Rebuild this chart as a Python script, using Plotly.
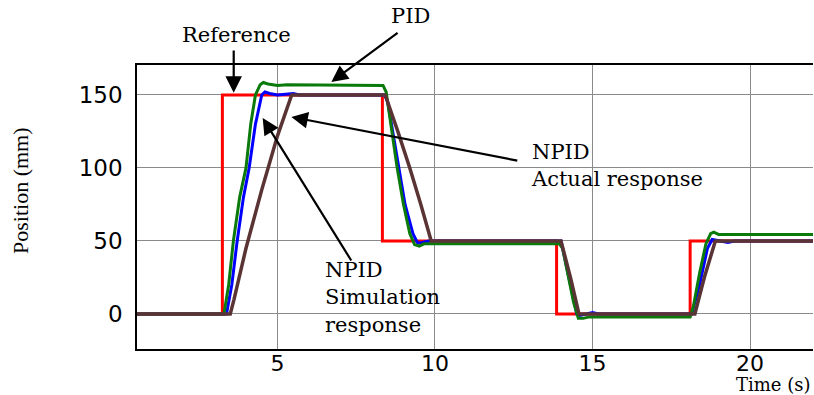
import plotly.graph_objects as go

# Reference position command (mm) against time (s)
t_ref = [0.54, 3.25, 3.25, 8.33, 8.33, 13.86, 13.86, 18.1, 18.1, 22.0]
pos_ref = [0, 0, 150, 150, 50, 50, 0, 0, 50, 50]

# PID response
t_pid = [0.54, 3.3, 3.45, 3.6, 3.8, 4.0, 4.15, 4.3, 4.45, 4.55, 4.7, 5.0, 5.3, 5.6,
         6.0, 7.0, 8.35, 8.45, 8.6, 8.8, 9.0, 9.2, 9.35, 9.5, 9.65, 9.8, 13.95,
         14.05, 14.2, 14.4, 14.55, 14.7, 14.9, 18.1, 18.2, 18.4, 18.6, 18.75,
         18.85, 19.0, 22.0]
pos_pid = [0, 0, 20, 50, 80, 100, 130, 150, 157, 158.5, 157.5, 156.5, 157, 157,
           156.5, 156.5, 156.5, 152, 130, 100, 75, 55, 47.5, 46.5, 48, 48, 48,
           45, 28, 8, -3, -3, -2, -2, 5, 28, 48, 55, 56, 54.5, 54.5]

# NPID simulation response
t_sim = [0.54, 3.38, 3.55, 3.72, 3.92, 4.1, 4.3, 4.5, 4.6, 4.75, 5.0, 5.5, 5.7,
         8.4, 8.5, 8.7, 8.85, 9.05, 9.3, 9.45, 9.6, 9.8, 14.0, 14.2, 14.4, 14.5,
         14.6, 14.8, 15.0, 15.2, 18.15, 18.4, 18.65, 18.8, 19.0, 19.3, 19.5, 22.0]
pos_sim = [0, 0, 20, 50, 80, 100, 130, 150, 152, 151, 150, 151, 150,
           150, 145, 120, 100, 75, 55, 48.5, 49, 50, 50, 30, 10, 0,
           -1, 0, 1, 0, 0, 20, 45, 51, 50, 49, 50, 50]

# NPID actual response
t_act = [0.54, 3.5, 3.62, 4.0, 4.5, 5.0, 5.45, 8.42, 8.82, 9.2, 9.55, 9.88,
         14.0, 14.3, 14.57, 18.25, 18.55, 18.9, 22.0]
pos_act = [0, 0, 10, 45, 85, 122, 150, 150, 125, 100, 75, 50,
           50, 25, 0, 0, 25, 50, 50]

x_ticks = [5, 10, 15, 20]
y_ticks = [0, 50, 100, 150]

fig = go.Figure()
fig.add_trace(go.Scatter(x=t_ref, y=pos_ref, mode="lines",
                         line=dict(color="#ff0000", width=3), name="Reference"))
fig.add_trace(go.Scatter(x=t_sim, y=pos_sim, mode="lines",
                         line=dict(color="#0000ff", width=3), name="NPID simulation"))
fig.add_trace(go.Scatter(x=t_pid, y=pos_pid, mode="lines",
                         line=dict(color="#0a7a0a", width=3), name="PID"))
fig.add_trace(go.Scatter(x=t_act, y=pos_act, mode="lines",
                         line=dict(color="#5a3434", width=3.5), name="NPID actual"))

W, H = 814, 395
ML, MR, MT, MB = 137, 1, 65, 46
pw, ph = W - ML - MR, H - MT - MB
X0, X1 = 0.54, 22.0
Y0, Y1 = -24, 170.5

serif = "DejaVu Serif"
label_font = dict(family=serif, size=21, color="black")

annotations = []


def px_to_paper(px, py):
    return (px - ML) / pw, (H - MB - py) / ph


def arrow(tip_x, tip_y, tail_x, tail_y):
    annotations.append(dict(
        x=tip_x, y=tip_y, ax=tail_x, ay=tail_y,
        xref="x", yref="y", axref="x", ayref="y",
        text="", showarrow=True, arrowhead=2, arrowsize=1.5,
        arrowwidth=2.2, arrowcolor="black", standoff=0, startstandoff=0,
    ))


def label(px, py, text, xanchor="center", font=label_font, angle=0):
    # text placed by its pixel position on the page
    x, y = px_to_paper(px, py)
    annotations.append(dict(
        x=x, y=y, xref="paper", yref="paper", text=text, showarrow=False,
        xanchor=xanchor, yanchor="middle", align="left", font=font,
        textangle=angle, borderpad=0,
    ))


label(236, 35, "Reference")
arrow(3.61, 151.5, 3.61, 181.5)

label(410, 16, "PID")
arrow(6.71, 158.9, 8.86, 193.2)

label(530, 165, "NPID<br>Actual response", xanchor="left")
arrow(5.44, 134.9, 12.66, 104.8)

label(324, 297, "NPID<br>Simulation<br>response", xanchor="left")
arrow(4.53, 134.2, 7.37, 35.6)

# Axis titles
label(20, 191, "Position (mm)",
      font=dict(family="Liberation Serif", size=22, color="black"), angle=-90)
label(812, 384.5, "Time (s)", xanchor="right",
      font=dict(family=serif, size=18, color="black"))

fig.update_layout(
    width=W, height=H,
    margin=dict(l=ML, r=MR, t=MT, b=MB),
    paper_bgcolor="white", plot_bgcolor="white",
    showlegend=False,
    annotations=annotations,
    xaxis=dict(range=[X0, X1], tickvals=x_ticks, ticktext=[str(v) for v in x_ticks],
               showgrid=True, gridcolor="#8a8a8a", gridwidth=1, zeroline=False,
               showline=True, linecolor="black", linewidth=1.5, mirror=True,
               ticks="", ticklabelstandoff=-6,
               tickfont=dict(family="DejaVu Sans", size=22, color="black")),
    yaxis=dict(range=[Y0, Y1], tickvals=y_ticks, ticktext=[str(v) for v in y_ticks],
               showgrid=True, gridcolor="#8a8a8a", gridwidth=1, zeroline=False,
               showline=True, linecolor="black", linewidth=1.5, mirror=False,
               ticks="", ticklabelstandoff=8,
               tickfont=dict(family="DejaVu Sans", size=23, color="black")),
)

fig.write_html("out.html")
